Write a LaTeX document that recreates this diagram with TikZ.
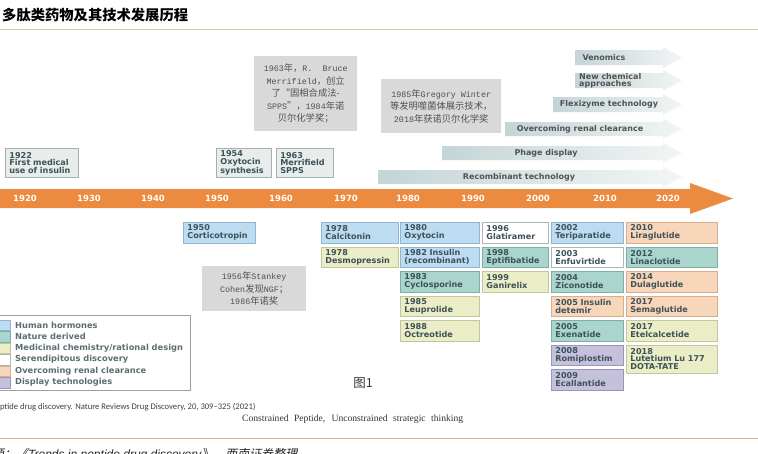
\documentclass[tikz,border=0pt]{standalone}
\usepackage{fontspec}
\setmainfont{DejaVu Sans}
\newfontfamily\cjk{Noto Sans CJK SC}
\newfontfamily\cjkit{Noto Sans CJK SC}[FakeSlant=0.2]
\newfontfamily\mono{Liberation Mono}[Scale=0.9]
\newfontfamily\carl{Carlito}
\newfontfamily\tnr{Liberation Serif}
\newfontfamily\ari{Liberation Sans}
\definecolor{hhF}{HTML}{BDDCF2}\definecolor{hhD}{HTML}{8DB6D4}
\definecolor{ndF}{HTML}{A9D5CD}\definecolor{ndD}{HTML}{7DAFA6}
\definecolor{mcF}{HTML}{EAEDC6}\definecolor{mcD}{HTML}{C3C799}
\definecolor{sdF}{HTML}{FFFFFF}\definecolor{sdD}{HTML}{AEB7B7}
\definecolor{orF}{HTML}{F8D6BA}\definecolor{orD}{HTML}{D9AE8D}
\definecolor{dtF}{HTML}{C5C1DD}\definecolor{dtD}{HTML}{9A95BE}
\definecolor{tpF}{HTML}{E8EDEC}\definecolor{tpD}{HTML}{A7B0AF}
\definecolor{boxtxt}{HTML}{3D5259}
\definecolor{legtxt}{HTML}{5B6F70}
\definecolor{notef}{HTML}{D9D9D9}
\definecolor{notetxt}{HTML}{505050}
\definecolor{barc}{HTML}{EC8A3F}
\definecolor{tA}{HTML}{C4D5D7}
\definecolor{tB}{HTML}{F2F5F5}
\definecolor{conc}{HTML}{9BA6A6}
\definecolor{rulec}{HTML}{D8C9A6}
\definecolor{rule2}{HTML}{D9B676}
\pgfdeclarelayer{bg}
\pgfsetlayers{bg,main}
\begin{document}
\begin{tikzpicture}[x=1pt,y=-1pt,
  bx/.style={anchor=north west, line width=0.8pt, inner xsep=4pt, inner ysep=1pt,
    minimum height=20.5pt, align=left, text=boxtxt,
    font=\fontsize{8.1}{7.8}\selectfont\bfseries},
  hh/.style={fill=hhF, draw=hhD}, nd/.style={fill=ndF, draw=ndD},
  mc/.style={fill=mcF, draw=mcD}, sd/.style={fill=sdF, draw=sdD},
  ors/.style={fill=orF, draw=orD}, dt/.style={fill=dtF, draw=dtD},
  topbox/.style={bx, fill=tpF, draw=tpD, minimum height=29pt},
  note/.style={anchor=north west, fill=notef, inner sep=0pt, align=center, text=notetxt,
    font=\cjk\fontsize{9.3}{12.5}\selectfont},
  conn/.style={draw=conc, line width=0.8pt},
  yr/.style={text=white, font=\fontsize{8.5}{8.5}\selectfont\bfseries},
  tlab/.style={text=black!68, font=\fontsize{8}{7}\selectfont\bfseries, inner sep=0pt},
  leglab/.style={anchor=west, text=legtxt, inner sep=0pt, font=\fontsize{8.3}{8.3}\selectfont\bfseries},
  swatch/.style={anchor=west, minimum width=11pt, minimum height=10.5pt, inner sep=0pt, line width=0.5pt}
]
\useasboundingbox (0,0) rectangle (758,453);
\clip (0,0) rectangle (758,453);
\fill[white] (0,0) rectangle (758,453);

% title
\node[anchor=west, inner sep=0pt, font=\cjk\bfseries\fontsize{14.3}{14.3}\selectfont] (title) at (2,15.5) {多肽类药物及其技术发展历程};
\draw[rulec, line width=1pt] (0,29) -- (758,29);

% tech arrows
\foreach \x/\ya/\yb in {575/50/65, 575/73/88, 553/97/112, 505/122/136, 442/146/160, 378/170/184}{
  \shade[left color=tA, right color=tB] (\x,\ya) -- (663,\ya) -- (663,\ya-3) -- (682,{(\ya+\yb)/2}) -- (663,\yb+3) -- (663,\yb) -- (\x,\yb) -- cycle;
}
\node[tlab] (tv) at (604,57.5) {Venomics};
\node[tlab, anchor=west, align=left] (tn) at (579,80.5) {New chemical\\approaches};
\node[tlab] (tf) at (609,104.5) {Flexizyme technology};
\node[tlab] (to) at (580,129) {Overcoming renal clearance};
\node[tlab] (tp) at (546,153) {Phage display};
\node[tlab] (tr) at (519,177) {Recombinant technology};

% orange time bar
\fill[barc] (0,189) -- (690,189) -- (690,183) -- (733,198.5) -- (690,214) -- (690,208) -- (0,208) -- cycle;
\coordinate (bartop) at (0,189);
\coordinate (barbot) at (0,208);
\foreach \px/\yy in {25/1920, 89/1930, 153/1940, 217/1950, 281/1960, 346/1970, 408/1980, 473/1990, 538/2000, 605/2010, 668/2020}{
  \node[yr] (y\yy) at (\px,198.5) {\yy};
}

% notes
\node[note, minimum width=103pt, minimum height=75pt] (n63) at (254,56)
  {{\mono 1963}年，{\mono R.\ \ Bruce}\\{\mono Merrifield}，创立\\了“固相合成法-\\{\mono SPPS}”，{\mono 1984}年诺\\贝尔化学奖；};
\node[note, minimum width=120pt, minimum height=54pt] (n85) at (381,79)
  {{\mono 1985}年{\mono Gregory Winter}\\等发明噬菌体展示技术，\\{\mono 2018}年获诺贝尔化学奖};
\node[note, minimum width=104pt, minimum height=45pt] (n56) at (202,266)
  {{\mono 1956}年{\mono Stankey}\\{\mono Cohen}发现{\mono NGF}；\\{\mono 1986}年诺奖};

% top boxes
\node[topbox, text width=65pt] (b22) at (5,148) {1922\\First medical\\use of insulin};
\node[topbox, text width=47pt] (b54) at (216,148) {1954\\Oxytocin\\synthesis};
\node[topbox, text width=49pt] (b63) at (276,148) {1963\\Merrifield\\SPPS};

% bottom boxes
\node[bx, hh, text width=64pt] (c50) at (183,222) {1950\\Corticotropin};
\node[bx, hh, text width=69pt] (c78a) at (321,222) {1978\\Calcitonin};
\node[bx, mc, text width=69pt] (c78b) at (321,246.5) {1978\\Desmopressin};

\node[bx, hh, text width=71pt] (c80a) at (400,222) {1980\\Oxytocin};
\node[bx, hh, text width=71pt] (c80b) at (400,246.5) {1982 Insulin\\(recombinant)};
\node[bx, nd, text width=71pt] (c80c) at (400,271) {1983\\Cyclosporine};
\node[bx, mc, text width=71pt] (c80d) at (400,295.5) {1985\\Leuprolide};
\node[bx, mc, text width=71pt] (c80e) at (400,320) {1988\\Octreotide};

\node[bx, sd, text width=58pt] (c90a) at (482,222) {1996\\Glatiramer};
\node[bx, nd, text width=58pt] (c90b) at (482,246.5) {1998\\Eptifibatide};
\node[bx, mc, text width=58pt] (c90c) at (482,271) {1999\\Ganirelix};

\node[bx, hh, text width=64pt] (c00a) at (551,222) {2002\\Teriparatide};
\node[bx, sd, text width=64pt] (c00b) at (551,246.5) {2003\\Enfuvirtide};
\node[bx, nd, text width=64pt] (c00c) at (551,271) {2004\\Ziconotide};
\node[bx, ors, text width=64pt] (c00d) at (551,295.5) {2005 Insulin\\detemir};
\node[bx, nd, text width=64pt] (c00e) at (551,320) {2005\\Exenatide};
\node[bx, dt, text width=64pt] (c00f) at (551,344.5) {2008\\Romiplostim};
\node[bx, dt, text width=64pt] (c00g) at (551,369) {2009\\Ecallantide};

\node[bx, ors, text width=83pt] (c10a) at (626,222) {2010\\Liraglutide};
\node[bx, nd, text width=83pt] (c10b) at (626,246.5) {2012\\Linaclotide};
\node[bx, ors, text width=83pt] (c10c) at (626,271) {2014\\Dulaglutide};
\node[bx, ors, text width=83pt] (c10d) at (626,295.5) {2017\\Semaglutide};
\node[bx, mc, text width=83pt] (c10e) at (626,320) {2017\\Etelcalcetide};
\node[bx, mc, text width=83pt, minimum height=28pt] (c10f) at (626,344.5) {2018\\Lutetium Lu 177\\DOTA-TATE};

% connectors (behind boxes)
\coordinate (t78) at (385,208);
\coordinate (k80) at (441,214);
\coordinate (k90) at (505,214);
\coordinate (k00) at (570,214);
\coordinate (k10) at (635,214);
\begin{pgfonlayer}{bg}
\draw[conn] (b22.south) -- (b22.south |- bartop);
\draw[conn] (b54.south -| 246,0) -- (246,189);
\draw[conn] (b63.south -| 303,0) -- (303,189);
\draw[conn] (c50.north) -- (c50.north |- barbot);
\draw[conn] (t78) -- (t78 |- c78b.north);
\draw[conn] (k80) -- (k80 |- c80e.north);
\draw[conn] (k90) -- (k90 |- c90c.north);
\draw[conn] (k00) -- (k00 |- c00g.north);
\draw[conn] (k10) -- (k10 |- c10f.north);
\foreach \a/\b in {408/473, 474/537, 538/603, 604/666}{
  \draw[conn, rounded corners=3pt] (\a,208.5) -- (\a,214) -- (\b,214) -- (\b,208.5);
}
\end{pgfonlayer}

% legend
\node[draw=black!38, line width=0.6pt, fill=white, anchor=north west, minimum width=191pt, minimum height=75pt, inner sep=0pt] (legend) at (-1,315) {};
\foreach \c/\yy/\t [count=\i] in {hh/325/Human hormones, nd/336.5/Nature derived, mc/348/Medicinal chemistry\slash rational design, sd/359.5/Serendipitous discovery, ors/371/Overcoming renal clearance, dt/382.5/Display technologies}{
  \node[swatch, \c] (sw\i) at (-1,\yy) {};
  \node[leglab] (lg\i) at (15,\yy) {\t};
}

\node[inner sep=0pt, text=black!80, font=\cjk\fontsize{12.5}{12.5}\selectfont] (fig) at (363,383) {图1};

\node[anchor=west, inner sep=0pt, text=black!75, font=\carl\fontsize{8.6}{8.6}\selectfont] (ref) at (0,407) {ptide drug discovery. Nature Reviews Drug Discovery, 20, 309–325 (2021)};
\node[anchor=west, inner sep=0pt, text=black!80, font=\tnr\fontsize{9.6}{9.6}\selectfont] (sub) at (242,419) {\makebox[221pt][s]{Constrained Peptide, Unconstrained strategic thinking}};

\draw[rule2, line width=1pt] (0,438) -- (758,438);
\node[anchor=base west, inner sep=0pt, text=black!85, font=\fontsize{12}{12}\selectfont] (src) at (-8,458)
  {{\cjkit 源：《}{\ari\itshape Trends in peptide drug discovery}{\cjkit 》，西南证券整理}};
\end{tikzpicture}
\end{document}
